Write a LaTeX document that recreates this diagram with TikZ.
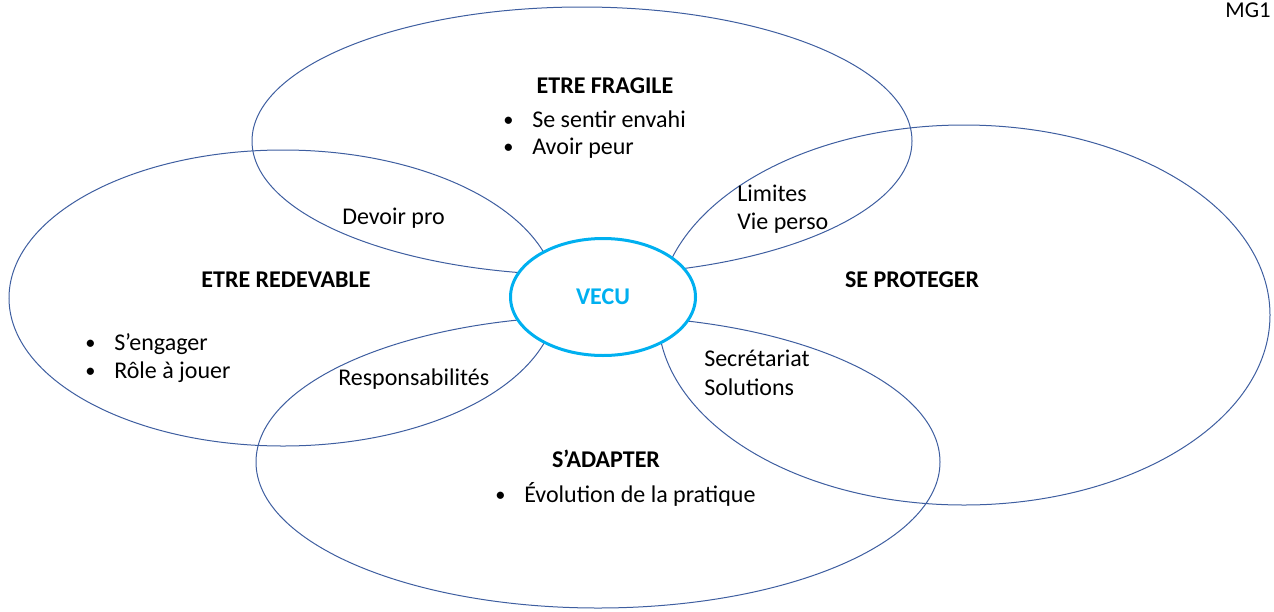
\documentclass[tikz,border=0pt]{standalone}
\usepackage{fontspec}
\setmainfont{Carlito}
\usepackage{tikz}
\usetikzlibrary{shapes.geometric,positioning}
\definecolor{petalblue}{RGB}{62,94,160}
\definecolor{vecublue}{RGB}{0,176,240}
\newcommand{\bul}{\makebox[21.75pt][l]{\raisebox{0.5pt}{\scalebox{0.85}{\textbullet}}}}

\begin{document}
\begin{tikzpicture}[
    x=0.75pt, y=-0.75pt,
    every node/.style={font=\fontsize{18}{21.75}\selectfont},
    petal/.style={ellipse,draw=petalblue,line width=0.75pt,inner sep=0pt},
    core node/.style={ellipse,draw=vecublue,fill=white,line width=2.25pt,inner sep=0pt,
        minimum width=138.75pt,minimum height=87.75pt,text=vecublue,
        font=\fontsize{18}{21.75}\selectfont\bfseries},
    title/.style={anchor=base,font=\fontsize{18}{21.75}\selectfont\bfseries},
    txt/.style={anchor=base west,inner sep=0pt}
  ]
  \useasboundingbox (0,0) rectangle (1274,611);

  % the four petals
  \node[petal,minimum width=495pt,minimum height=201pt] (fragile) at (582,141) {};
  \node[petal,minimum width=411pt,minimum height=222pt] (redevable) at (283,298) {};
  \node[petal,minimum width=459pt,minimum height=285pt] (proteger) at (964,315) {};
  \node[petal,minimum width=513pt,minimum height=219pt] (adapter) at (598,462) {};

  % centre
  \node[core node] (vecu) at (603,297) {VECU};

  % titles
  \node[title] (t-fragile) at (605,93) {ETRE FRAGILE};
  \node[title] (t-redevable) at (286,287) {ETRE REDEVABLE};
  \node[title] (t-proteger) at (912,287) {SE PROTEGER};
  \node[title] (t-adapter) at (606,467) {S’ADAPTER};

  % bullet items
  \node[txt] (i-envahi) at (503,127) {\bul Se sentir envahi};
  \node[txt] (i-peur) at (503,154) {\bul Avoir peur};
  \node[txt] (i-engager) at (85,350) {\bul S’engager};
  \node[txt] (i-role) at (85,378) {\bul Rôle à jouer};
  \node[txt] (i-evol) at (495,502) {\bul Évolution de la pratique};

  % overlaps
  \node[txt] (x-devoir) at (342,224) {Devoir pro};
  \node[txt] (x-limites) at (737,201) {Limites};
  \node[txt] (x-vie) at (737,229) {Vie perso};
  \node[txt] (x-resp) at (338,385) {Responsabilités};
  \node[txt] (x-secr) at (704,366) {Secrétariat};
  \node[txt] (x-sol) at (704,395) {Solutions};

  \node[anchor=base,font=\fontsize{17}{20}\selectfont] (mg) at (1248,17) {MG1};
\end{tikzpicture}
\end{document}
